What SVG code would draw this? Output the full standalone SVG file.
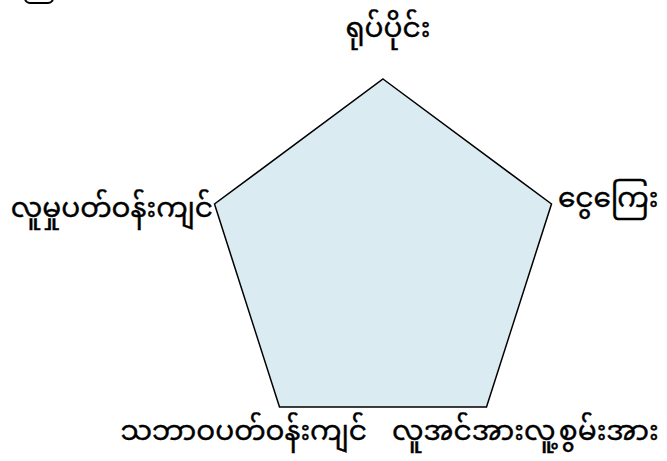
<svg xmlns="http://www.w3.org/2000/svg" width="667" height="461" viewBox="0 0 667 461">
<style>
.lbl{font-family:"Noto Sans Myanmar","Noto Sans",sans-serif;font-size:28px;fill:#000;stroke:#000;stroke-width:0.4}
.poly{fill:#daebf2;stroke:#000;stroke-width:1.5}
</style>
<rect width="667" height="461" fill="#fff"/>
<rect x="25" y="-20" width="28" height="23" rx="5" fill="none" stroke="#000" stroke-width="2"/>
<g id="connectors"></g>
<g id="pentagon"><polygon class="poly" points="383,79 551.5,204 486.5,407 279.5,407 214.5,204"/></g>
<g id="n-top"><text class="lbl" x="388" y="37" text-anchor="middle">ရုပ်ပိုင်း</text></g>
<g id="n-right"><text class="lbl" x="558" y="207">ငွေကြေး</text></g>
<g id="n-left"><text class="lbl" x="213" y="217" text-anchor="end">လူမှုပတ်ဝန်းကျင်</text></g>
<g id="n-bl"><text class="lbl" x="367" y="440" text-anchor="end">သဘာဝပတ်ဝန်းကျင်</text></g>
<g id="n-br"><text class="lbl" x="392" y="440">လူအင်အားလူ့စွမ်းအား</text></g>
</svg>
